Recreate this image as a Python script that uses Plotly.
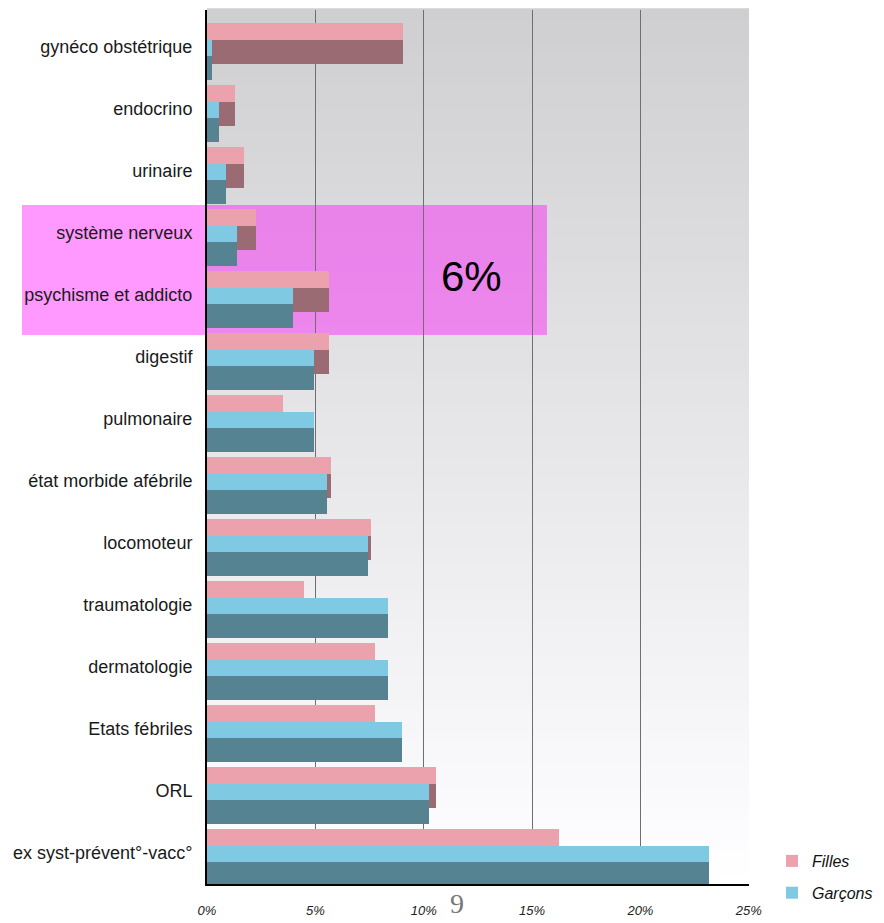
import plotly.graph_objects as go

categories = ["gynéco obstétrique", "endocrino", "urinaire", "système nerveux",
              "psychisme et addicto", "digestif", "pulmonaire", "état morbide afébrile",
              "locomoteur", "traumatologie", "dermatologie", "Etats fébriles", "ORL",
              "ex syst-prévent°-vacc°"]
filles = [9.05, 1.28, 1.71, 2.25, 5.63, 5.65, 3.5, 5.73, 7.58, 4.47, 7.74, 7.74, 10.56, 16.25]
garcons = [0.25, 0.56, 0.86, 1.40, 3.96, 4.92, 4.92, 5.52, 7.45, 8.36, 8.36, 8.98, 10.25, 23.15]
x_ticks = [0, 5, 10, 15, 20, 25]
x_ticklabels = ["0%", "5%", "10%", "15%", "20%", "25%"]
highlight_text = "6%"
page_number = "9"

PINK = "#eba2ad"
MAUVE = "#9b6b73"
BLUE = "#7fc9e2"
TEAL = "#558392"

W, H = 884, 923
ML, MR, MT, MB = 207, 135, 10, 39
SP = 62.0  # px per category

def u(px):
    return px / SP

fig = go.Figure()
fig.add_trace(go.Bar(y=categories, x=filles, orientation="h", marker=dict(color=MAUVE, line=dict(width=0)),
                     offset=u(-7), width=u(24), showlegend=False, hoverinfo="skip"))
fig.add_trace(go.Bar(y=categories, x=filles, orientation="h", name="Filles", legendgroup="f",
                     marker=dict(color=PINK, line=dict(width=0)),
                     offset=u(-24), width=u(17), hoverinfo="skip"))
fig.add_trace(go.Bar(y=categories, x=garcons, orientation="h", name="Garçons", legendgroup="g",
                     marker=dict(color=BLUE, line=dict(width=0)),
                     offset=u(-7), width=u(16), hoverinfo="skip"))
fig.add_trace(go.Bar(y=categories, x=garcons, orientation="h", marker=dict(color=TEAL, line=dict(width=0)),
                     offset=u(9), width=u(24), showlegend=False, hoverinfo="skip"))

plot_h = H - MT - MB
plot_w = W - ML - MR
top = -(47 - MT) / SP
bottom = top + plot_h / SP

shapes = []
n = 80
for i in range(n):
    f0 = i / n
    f1 = (i + 1) / n
    v = int(round(207 + (255 - 207) * (1 - (f0 + f1) / 2)))
    shapes.append(dict(type="rect", xref="paper", yref="paper", x0=0, x1=1, y0=f0, y1=f1 + 0.002,
                       fillcolor=f"rgb({v},{v},{min(255, v + 2)})", line=dict(width=0), layer="below"))
shapes.append(dict(type="rect", xref="paper", yref="paper",
                   x0=(22 - ML) / plot_w, x1=(547 - ML) / plot_w,
                   y0=(H - MB - 335) / plot_h, y1=(H - MB - 205) / plot_h,
                   fillcolor="rgba(255,0,255,0.4)", line=dict(width=0), layer="below"))

SANS = "Liberation Sans, Arial, sans-serif"

fig.update_layout(
    template="none",
    width=W, height=H,
    margin=dict(l=ML, r=MR, t=MT, b=MB, pad=0, autoexpand=False),
    paper_bgcolor="white", plot_bgcolor="white",
    barmode="overlay", bargap=0,
    shapes=shapes,
    showlegend=True,
    legend=dict(x=(772 - ML) / plot_w, y=(H - MB - 844) / plot_h, xanchor="left", yanchor="top",
                font=dict(family=SANS, size=16, color="#111", style="italic"),
                tracegroupgap=8, bgcolor="rgba(0,0,0,0)", borderwidth=0, traceorder="grouped"),
    annotations=[
        dict(text=highlight_text, xref="paper", yref="paper",
             x=(471 - ML) / plot_w, y=(H - MB - 277) / plot_h, xanchor="center", yanchor="middle",
             showarrow=False, font=dict(family=SANS, size=42, color="#000")),
        dict(text=page_number, xref="paper", yref="paper",
             x=(457 - ML) / plot_w, y=(H - MB - 904) / plot_h, xanchor="center", yanchor="middle",
             showarrow=False, font=dict(family="Liberation Serif, DejaVu Serif, serif", size=28, color="#777")),
    ],
    xaxis=dict(range=[0, 25.01], tickvals=x_ticks, ticktext=x_ticklabels, automargin=False,
               showgrid=True, gridcolor="#6f6f6f", gridwidth=1, zeroline=False,
               showline=True, linecolor="#000", linewidth=2, ticks="",
               ticklabelstandoff=13,
               tickfont=dict(family=SANS, size=13, color="#222", style="italic"), fixedrange=True),
    yaxis=dict(type="category", categoryorder="array", categoryarray=categories, automargin=False,
               range=[bottom, top], showgrid=False, zeroline=False,
               showline=True, linecolor="#000", linewidth=2, ticks="",
               ticklabelstandoff=9,
               tickfont=dict(family=SANS, size=18, color="#1a1a1a"), fixedrange=True),
)

fig.write_html("out.html", config={"displayModeBar": False},
               post_script="document.body.style.margin='0';")
